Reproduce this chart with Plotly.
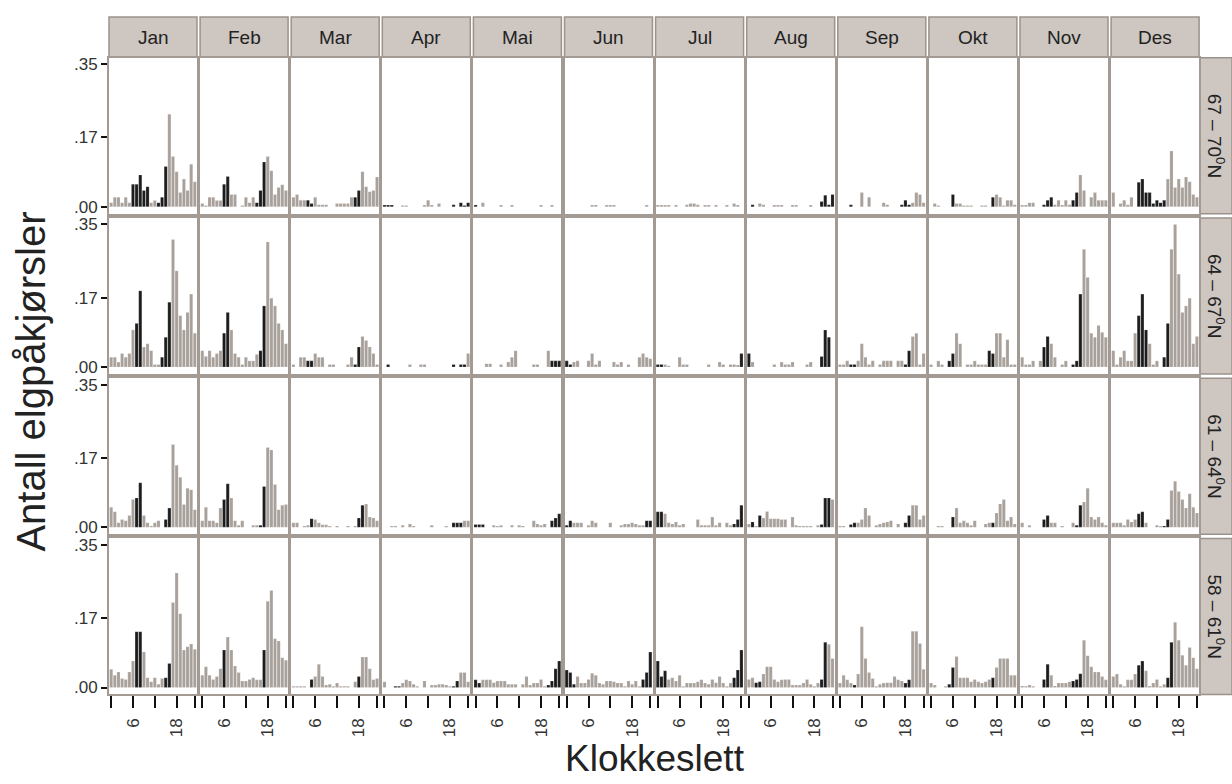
import plotly.graph_objects as go

months = ["Jan", "Feb", "Mar", "Apr", "Mai", "Jun", "Jul", "Aug", "Sep", "Okt", "Nov", "Des"]
bands = ["67 – 70", "64 – 67", "61 – 64", "58 – 61"]
hours = list(range(24))
y_tick_vals = [0, 0.17, 0.35]
y_tick_text = [".00", ".17", ".35"]
x_label_vals = [6, 18]
x_label_text = ["6", "18"]
x_minor_vals = [0, 12, 23]

# ---- 67-70 N ----
n67_jan = [.01,.023,.023,.01,.023,.01,.055,.055,.078,.04,.049,.01,.015,.01,.023,.099,.227,.123,.086,.035,.068,.04,.104,.061]
n67_jan_dark = "000000111110011100000000"
n67_feb = [.008,.003,.023,.023,.015,.015,.055,.074,.03,.03,0,.003,.023,.01,.023,.01,.04,.11,.123,.088,.03,.047,.054,.04]
n67_feb_dark = "000000110000000111000000"
n67_mar = [.023,.03,.016,.016,.016,.008,.023,.005,.005,.005,0,0,.008,.008,.008,.008,.023,.023,.04,.086,.049,.037,.04,.073]
n67_mar_dark = "000011000000000001100000"
n67_apr = [.004,.004,.004,0,0,.003,.003,0,0,0,0,.004,.016,.004,0,.008,0,0,0,.005,0,.01,.003,.01]
n67_apr_dark = "111000000000000000011111"
n67_mai = [.004,0,.01,0,0,0,0,.004,0,0,.004,0,0,0,0,0,0,0,.004,0,0,.004,0,0]
n67_mai_dark = "100000000000000000000000"
n67_jun = [0,0,0,0,0,0,0,.004,.004,0,0,.004,.004,.004,0,0,0,0,0,0,0,0,.004,0]
n67_jun_dark = "000000000000000000000000"
n67_jul = [.004,.004,.004,.004,0,.004,0,0,.005,.008,.008,.005,0,.004,.004,0,.004,0,0,.004,0,.008,.004,0]
n67_jul_dark = "000000000000000000000000"
n67_aug = [0,.005,0,.008,.005,0,0,.004,.004,.004,0,0,.004,.004,0,0,0,.004,0,0,.013,.028,.005,.03]
n67_aug_dark = "010000000000000000001111"
n67_sep = [0,0,0,.005,0,0,.035,0,.023,0,0,0,.01,.005,0,0,0,.005,.016,.005,.01,.035,.03,.01]
n67_sep_dark = "000100000000000001110000"
n67_okt = [0,.008,.003,0,0,0,.03,.008,.008,.003,.003,.003,0,0,.003,.003,0,.023,.03,.023,.003,.016,.016,.005]
n67_okt_dark = "000000100000000001000000"
n67_nov = [.004,.004,.01,.01,0,0,.005,.016,.023,.005,.016,.004,.016,.005,.016,.035,.078,.04,0,.023,.035,.016,.016,.016]
n67_nov_dark = "000000111000001100000000"
n67_des = [.035,0,.008,.016,.005,.023,0,.06,.068,.035,.035,.008,.016,.01,.016,.068,.137,.047,.068,.047,.073,.061,.03,.023]
n67_des_dark = "000000011111111000000000"

# ---- 64-67 N ----
n64_jan = [.024,.024,.012,.033,.024,.033,.091,.107,.187,.049,.057,.04,.006,.006,.024,.073,.159,.313,.236,.126,.091,.134,.179,.083]
n64_jan_dark = "000000011000001110000000"
n64_feb = [.04,.026,.04,.024,.033,.04,.083,.134,.091,.033,.024,.006,.024,.015,.015,.031,.04,.15,.307,.169,.15,.107,.091,.057]
n64_feb_dark = "000000110000000011000000"
n64_mar = [.006,0,.024,.024,.015,.015,.033,.024,.024,0,.006,.006,0,0,0,.006,.024,.006,.049,.075,.065,.049,.033,.006]
n64_mar_dark = "000011000000000001100000"
n64_apr = [0,.006,0,0,0,0,0,.006,0,0,.006,.006,0,0,0,0,0,0,0,.006,0,.006,.006,.033]
n64_apr_dark = "010000000000000000011110"
n64_mai = [0,0,0,.008,.008,0,0,.006,0,.012,.024,.04,0,0,0,0,.006,.006,0,0,.04,.015,.015,.015]
n64_mai_dark = "000000000000000000000111"
n64_jun = [.015,.006,.012,.015,0,0,.015,.033,.006,.015,0,0,0,.012,.006,.012,0,.006,0,0,.024,.033,.024,.02]
n64_jun_dark = "110000000000000000000000"
n64_jul = [.006,.006,.006,.003,0,0,.024,.006,.006,0,0,0,0,0,.006,0,0,.012,.006,0,.006,.006,.005,.033]
n64_jul_dark = "110000000000000000000001"
n64_aug = [.033,.012,0,0,0,0,0,.006,0,.012,.006,.006,.012,0,0,0,.006,.012,0,0,.026,.091,.073,0]
n64_aug_dark = "100000000000000000001110"
n64_sep = [.006,.006,.015,.006,.006,.015,.057,.024,.006,.015,0,.006,.015,.015,.015,0,.015,.015,.006,.04,.075,.083,.006,.033]
n64_sep_dark = "000110000000000000110000"
n64_okt = [.006,0,.015,.006,0,.015,.033,.083,.057,0,.006,.006,.015,.006,.006,.006,.04,.033,.083,.083,.024,.067,.006,.006]
n64_okt_dark = "000001100000000011000000"
n64_nov = [.024,.006,.006,.015,0,.015,.049,.075,.057,.024,0,.006,.015,0,.006,.015,.179,.289,.22,.083,.073,.102,.085,.073]
n64_nov_dark = "000000110000001110000000"
n64_des = [.04,.006,.024,.04,.015,.015,.083,.126,.179,.091,.057,.006,.015,0,.024,.107,.289,.35,.228,.134,.15,.169,.057,.075]
n64_des_dark = "000000011100001100000000"

# ---- 61-64 N ----
n61_jan = [.049,.038,.011,.019,.016,.029,.068,.072,.109,.029,.011,.003,.011,.016,0,.019,.047,.203,.152,.123,.056,.096,.092,.043]
n61_jan_dark = "000000011000000110000000"
n61_feb = [.016,.049,.016,.016,.011,.047,.068,.107,.072,.016,.005,.016,0,0,.005,.005,.005,.1,.196,.19,.105,.043,.054,.056]
n61_feb_dark = "000000110000000011000000"
n61_mar = [.011,.011,0,.003,.005,.021,.019,.011,.006,.006,.003,0,.003,0,0,.003,0,.003,.023,.054,.057,.025,.023,.016]
n61_mar_dark = "000001000000000000110000"
n61_apr = [0,0,.003,.003,0,.005,0,.008,.003,0,0,0,0,.005,0,0,0,.003,0,.011,.011,.011,.016,.016]
n61_apr_dark = "000000000000000000011100"
n61_mai = [.007,.007,.007,0,0,.005,.003,.005,0,0,.005,0,.005,.003,0,0,.016,.008,.005,.008,0,.016,.023,.033]
n61_mai_dark = "111000000000000000000111"
n61_jun = [.005,.016,.011,.011,.011,0,.005,.016,.011,0,0,0,.011,0,0,.005,.008,.008,.011,.008,.005,.005,.016,.016]
n61_jun_dark = "110000000000000000000011"
n61_jul = [.038,.038,.033,.011,.008,.013,.005,.008,0,0,0,.019,.005,.005,.005,.025,.005,.011,0,.011,.005,.008,.019,.054]
n61_jul_dark = "110000000000000000000111"
n61_aug = [.008,.013,.003,.029,.023,.039,.021,.021,.021,.019,.019,0,.025,.005,.003,.003,.003,.003,0,.005,.007,.072,.072,.068]
n61_aug_dark = "010100000000000000001110"
n61_sep = [.003,.003,0,.007,.011,.011,.019,.047,.029,0,.005,.008,.011,.013,.016,0,.008,0,.011,.029,.054,.054,.019,.029]
n61_sep_dark = "000110000000000000110000"
n61_okt = [0,0,.003,.003,0,0,.025,.047,.011,.016,.011,.005,.016,0,0,.008,.011,.011,.035,.057,.068,.016,.025,.008]
n61_okt_dark = "000000100000000001000000"
n61_nov = [.011,0,.005,0,0,0,.019,.029,.011,.011,0,.003,0,0,.011,.005,.054,.062,.096,.025,.019,.025,.011,.005]
n61_nov_dark = "000000110000000110000000"
n61_des = [.011,.011,.011,.005,.019,.013,.019,.033,.038,.011,0,0,.005,.003,.003,.019,.09,.113,.088,.068,.047,.082,.049,.035]
n61_des_dark = "000000011000001100000000"

# ---- 58-61 N ----
n58_jan = [.045,.03,.038,.022,.02,.038,.065,.137,.137,.087,.024,.014,.024,.008,.022,.024,.059,.209,.281,.181,.092,.1,.107,.094]
n58_jan_dark = "000000011000000110000000"
n58_feb = [.03,.051,.03,.02,.027,.046,.092,.124,.092,.053,.037,.016,.016,.02,.024,.019,.019,.092,.212,.238,.12,.114,.073,.067]
n58_feb_dark = "000000100000000001000000"
n58_mar = [.003,.003,.003,.003,0,.02,.027,.057,.027,.006,.008,.003,.011,.003,.003,.003,0,.014,.027,.075,.075,.046,.019,.022]
n58_mar_dark = "000001000000000000100000"
n58_apr = [.014,0,0,.003,.003,.011,.019,.016,.008,.003,0,.016,0,.006,.006,.008,.008,.006,.003,.003,.016,.037,.037,.014]
n58_apr_dark = "000110000000000000011000"
n58_mai = [.019,.011,.019,.019,.019,.012,.016,.016,.016,.008,.008,.008,0,.008,.027,.006,.011,.011,.02,.003,.006,.016,.046,.065]
n58_mai_dark = "110000000000000000001111"
n58_jun = [.043,.037,.008,.027,.011,.011,.02,.035,.03,.011,.008,.016,.016,.014,.011,.011,.003,.016,.008,.016,.003,.02,.037,.087]
n58_jun_dark = "111000000000000000000111"
n58_jul = [.065,.027,.041,.02,.024,.016,.03,.003,.011,.011,.011,.014,.019,.011,.008,.02,.012,.027,.011,.003,.011,.024,.043,.092]
n58_jul_dark = "111000000000000000000111"
n58_aug = [.02,.024,.012,.014,.033,.051,.051,.02,.014,.019,.02,.02,.006,.006,.006,.011,.02,.008,.003,.011,.02,.111,.106,.071]
n58_aug_dark = "001100000000000000001100"
n58_sep = [.011,.03,.019,.011,.006,.033,.149,.071,.037,.022,.003,.008,.011,.012,.012,.027,.019,.016,.011,.019,.138,.138,.108,.045]
n58_sep_dark = "000010000000000000110000"
n58_okt = [.011,.006,0,0,.003,.008,.049,.076,.024,.024,.024,.014,.02,.014,.011,.014,.02,.024,.049,.071,.071,.071,.03,.03]
n58_okt_dark = "000001100000000001000000"
n58_nov = [.004,.003,.006,.003,0,0,.02,.057,.03,.004,.011,.011,.011,.014,.016,.02,.034,.116,.078,.051,.038,.038,.027,.019]
n58_nov_dark = "000000110000001110000000"
n58_des = [.027,.033,.008,.003,.019,.019,.033,.055,.065,.041,.004,.011,.02,.003,.008,.024,.111,.16,.116,.079,.055,.098,.073,.046]
n58_des_dark = "000000011000000110000000"

grid = [
    [(n67_jan, n67_jan_dark), (n67_feb, n67_feb_dark), (n67_mar, n67_mar_dark), (n67_apr, n67_apr_dark),
     (n67_mai, n67_mai_dark), (n67_jun, n67_jun_dark), (n67_jul, n67_jul_dark), (n67_aug, n67_aug_dark),
     (n67_sep, n67_sep_dark), (n67_okt, n67_okt_dark), (n67_nov, n67_nov_dark), (n67_des, n67_des_dark)],
    [(n64_jan, n64_jan_dark), (n64_feb, n64_feb_dark), (n64_mar, n64_mar_dark), (n64_apr, n64_apr_dark),
     (n64_mai, n64_mai_dark), (n64_jun, n64_jun_dark), (n64_jul, n64_jul_dark), (n64_aug, n64_aug_dark),
     (n64_sep, n64_sep_dark), (n64_okt, n64_okt_dark), (n64_nov, n64_nov_dark), (n64_des, n64_des_dark)],
    [(n61_jan, n61_jan_dark), (n61_feb, n61_feb_dark), (n61_mar, n61_mar_dark), (n61_apr, n61_apr_dark),
     (n61_mai, n61_mai_dark), (n61_jun, n61_jun_dark), (n61_jul, n61_jul_dark), (n61_aug, n61_aug_dark),
     (n61_sep, n61_sep_dark), (n61_okt, n61_okt_dark), (n61_nov, n61_nov_dark), (n61_des, n61_des_dark)],
    [(n58_jan, n58_jan_dark), (n58_feb, n58_feb_dark), (n58_mar, n58_mar_dark), (n58_apr, n58_apr_dark),
     (n58_mai, n58_mai_dark), (n58_jun, n58_jun_dark), (n58_jul, n58_jul_dark), (n58_aug, n58_aug_dark),
     (n58_sep, n58_sep_dark), (n58_okt, n58_okt_dark), (n58_nov, n58_nov_dark), (n58_des, n58_des_dark)],
]

# ---- styling / geometry ----
W, H = 1232, 784
GRAY = "#a8a09a"
DARK = "#1c1c1c"
FRAME = "#a39a93"
STRIP_FILL = "#cdc6c1"
STRIP_LINE = "#9b928b"
FONT = "Liberation Sans, Arial, sans-serif"

col_left0, col_step, col_w = 109, 91.1, 88
row_top0, row_step, row_h = 56, 161.3, 157
strip_top = 15
rstrip_x0, rstrip_x1 = 1200, 1232


def px(x):
    return x / W


def py(y):
    return 1 - y / H


fig = go.Figure()
layout = {}
shapes = []
annotations = []

for r in range(4):
    top = row_top0 + r * row_step
    for c in range(12):
        k = r * 12 + c + 1
        left = col_left0 + c * col_step
        vals, dark = grid[r][c]
        colors = [DARK if d == "1" else GRAY for d in dark]
        fig.add_trace(go.Bar(
            x=hours, y=vals, width=0.86,
            marker=dict(color=colors, line=dict(color="rgba(255,255,255,0.6)", width=0.3)),
            xaxis="x" if k == 1 else f"x{k}", yaxis="y" if k == 1 else f"y{k}",
            showlegend=False, hoverinfo="skip",
        ))
        xa = dict(
            domain=[px(left), px(left + col_w)], anchor="y" if k == 1 else f"y{k}",
            range=[-0.6, 23.6], showgrid=False, zeroline=False,
            showline=True, mirror=True, linecolor=FRAME, linewidth=2,
            fixedrange=True,
        )
        if r == 3:
            xa.update(tickmode="array", tickvals=x_label_vals, ticktext=x_label_text,
                      ticks="outside", ticklen=12, tickwidth=2, tickcolor="#111",
                      ticklabelstandoff=3,
                      tickangle=-90, tickfont=dict(family=FONT, size=17, color="#333"),
                      minor=dict(tickmode="array", tickvals=x_minor_vals, ticks="outside",
                                 ticklen=12, tickwidth=2, tickcolor="#111", showgrid=False))
        else:
            xa.update(showticklabels=False, ticks="")
        ya = dict(
            domain=[py(top + row_h), py(top)], anchor="x" if k == 1 else f"x{k}",
            range=[-0.017, 0.366], showgrid=False, zeroline=False,
            showline=True, mirror=True, linecolor=FRAME, linewidth=2,
            fixedrange=True,
        )
        if c == 0:
            ya.update(tickmode="array", tickvals=y_tick_vals, ticktext=y_tick_text,
                      ticks="outside", ticklen=6, tickwidth=2, tickcolor="#111",
                      tickfont=dict(family=FONT, size=17, color="#333"))
        else:
            ya.update(showticklabels=False, ticks="")
        layout["xaxis" if k == 1 else f"xaxis{k}"] = xa
        layout["yaxis" if k == 1 else f"yaxis{k}"] = ya

# month strips
for c, m in enumerate(months):
    left = col_left0 + c * col_step
    shapes.append(dict(type="rect", xref="paper", yref="paper",
                       x0=px(left), x1=px(left + col_w), y0=py(row_top0 - 1), y1=py(strip_top),
                       fillcolor=STRIP_FILL, line=dict(color=STRIP_LINE, width=1.5), layer="below"))
    annotations.append(dict(text=m, xref="paper", yref="paper",
                            x=px(left + col_w / 2), y=py((strip_top + row_top0) / 2),
                            showarrow=False, xanchor="center", yanchor="middle",
                            font=dict(family=FONT, size=19, color="#222")))

# latitude strips
for r, b in enumerate(bands):
    top = row_top0 + r * row_step
    shapes.append(dict(type="rect", xref="paper", yref="paper",
                       x0=px(rstrip_x0), x1=px(rstrip_x1), y0=py(top + row_h), y1=py(top),
                       fillcolor=STRIP_FILL, line=dict(color=STRIP_LINE, width=1.5), layer="below"))
    annotations.append(dict(text=b + "<sup>0</sup>N", xref="paper", yref="paper",
                            x=px((rstrip_x0 + rstrip_x1) / 2), y=py(top + row_h / 2),
                            showarrow=False, xanchor="center", yanchor="middle", textangle=90,
                            font=dict(family=FONT, size=19, color="#222")))

# axis titles
annotations.append(dict(text="Klokkeslett", xref="paper", yref="paper",
                        x=px(655), y=py(784), showarrow=False, xanchor="center", yanchor="bottom",
                        font=dict(family=FONT, size=37, color="#222")))
annotations.append(dict(text="Antall elgpåkjørsler", xref="paper", yref="paper",
                        x=px(31), y=py(382), showarrow=False, xanchor="center", yanchor="middle",
                        textangle=-90, font=dict(family=FONT, size=40, color="#222")))

fig.update_layout(
    width=W, height=H, margin=dict(l=0, r=0, t=0, b=0),
    paper_bgcolor="white", plot_bgcolor="white",
    bargap=0.1, shapes=shapes, annotations=annotations,
    **layout,
)

fig.write_html("out.html", config={"displayModeBar": False},
               post_script="document.body.style.margin='0px';")
